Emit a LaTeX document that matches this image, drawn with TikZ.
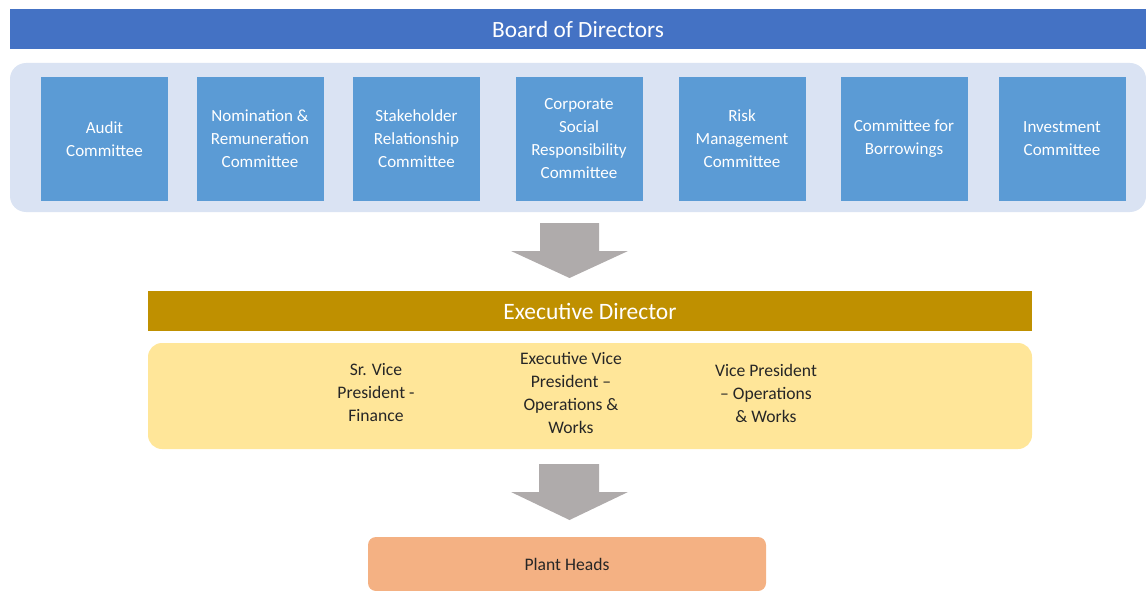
\documentclass[tikz,border=0pt]{standalone}
\usepackage{fontspec}
\setmainfont{Carlito}
\begin{document}
\begin{tikzpicture}[x=1pt,y=-1pt,
  boardbar/.style={fill=bluebar, draw=none},
  cbox/.style={fill=boxblue, draw=none, minimum width=127pt, minimum height=124pt,
    text=white, align=center, font=\fontsize{17}{23}\selectfont, inner sep=0pt},
  vp/.style={align=center, text=black!85, font=\fontsize{17.6}{23}\selectfont, inner sep=0pt},
  blockarrow/.style={fill=arrowgrey, draw=none}
]
\definecolor{bluebar}{HTML}{4472C4}
\definecolor{panelblue}{HTML}{DAE3F3}
\definecolor{boxblue}{HTML}{5B9BD5}
\definecolor{gold}{HTML}{BF9000}
\definecolor{paleyellow}{HTML}{FFE699}
\definecolor{peach}{HTML}{F4B183}
\definecolor{arrowgrey}{HTML}{AFABAB}

\useasboundingbox (0,0) rectangle (1146,591);

% Board of Directors
\node[boardbar, minimum width=1136pt, minimum height=40pt, inner sep=0pt,
  text=white, font=\fontsize{23.3}{27}\selectfont] (board) at (578,29) {Board of Directors};

% committees panel
\fill[panelblue, rounded corners=16pt] (10,63) rectangle (1146,212);
\coordinate (panel) at (578,212);

\node[cbox] (audit) at (104.5,139) {Audit\\Committee};
\node[cbox] (nrc)   at (260,139) {Nomination \&\\Remuneration\\Committee};
\node[cbox] (src)   at (416.5,139) {Stakeholder\\Relationship\\Committee};
\node[cbox] (csr)   at (579,139) {Corporate\\Social\\Responsibility\\Committee};
\node[cbox] (rmc)   at (742,139) {Risk\\Management\\Committee};
\node[cbox] (cfb)   at (904,139) {Committee for\\Borrowings};
\node[cbox] (inv)   at (1062,139) {Investment\\Committee};

% Executive Director
\node[fill=gold, minimum width=884pt, minimum height=40pt, inner sep=0pt,
  text=white, font=\fontsize{23.5}{27}\selectfont] (ed) at (590,311) {Executive Director};

\fill[paleyellow, rounded corners=14pt] (148,343) rectangle (1032,449);
\coordinate (vpanel) at (590,449);

\node[vp] (svp) at (376,393) {Sr. Vice\\President -\\Finance};
\node[vp] (evp) at (571,393) {Executive Vice\\President --\\Operations \&\\Works};
\node[vp] (vpo) at (766,393) {Vice President\\-- Operations\\\& Works};

% Plant Heads
\node[fill=peach, rounded corners=8pt, minimum width=398pt, minimum height=54pt,
  inner sep=0pt, text=black!85, font=\fontsize{17.6}{21}\selectfont] (ph) at (567,564) {Plant Heads};

% block arrows between the tiers
\fill[blockarrow] (540,223) -- (599,223) -- (599,251) -- (628,251) -- (569.5,278)
  -- (511,251) -- (540,251) -- cycle;
\fill[blockarrow] (539,464) -- (599,464) -- (599,492) -- (628,492) -- (569.5,520)
  -- (511,492) -- (539,492) -- cycle;
\end{tikzpicture}
\end{document}
